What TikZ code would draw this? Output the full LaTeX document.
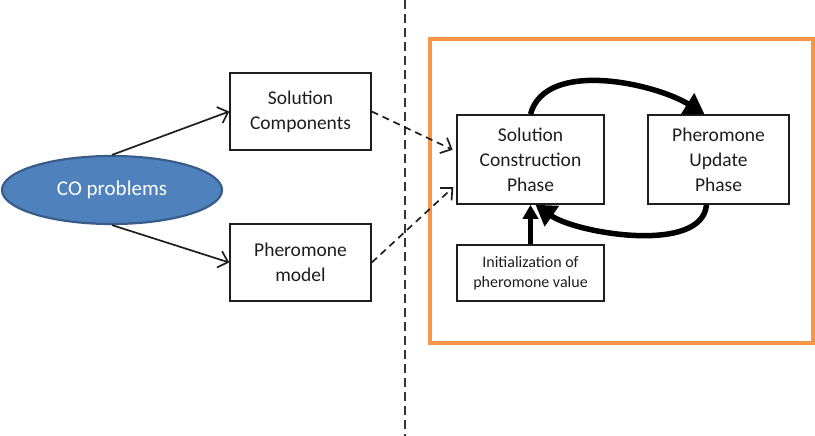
\documentclass[tikz,border=0pt]{standalone}
\usepackage{fontspec}
\setmainfont{Carlito}
\usepackage{tikz}
\usetikzlibrary{shapes,arrows,arrows.meta,positioning,shapes.geometric}
\definecolor{cobase}{RGB}{79, 129, 189}
\definecolor{coedge}{RGB}{56, 93, 138}
\definecolor{frame}{RGB}{247, 150, 70}
\definecolor{ink}{RGB}{30, 30, 30}
\tikzstyle{phasebox} = [
    rectangle,
    draw=ink,
    line width=1.5pt,
    align=center,
    text=ink,
    inner sep=2pt,
    font=\fontsize{19.5}{25}\selectfont
]
\tikzstyle{problem} = [
    ellipse,
    draw=coedge,
    line width=2.2pt,
    fill=cobase,
    text=white,
    minimum width=220pt,
    minimum height=68pt,
    font=\fontsize{21}{25}\selectfont
]
\tikzstyle{link} = [
    line width=1.7pt,
    draw=ink,
    -{Straight Barb[length=9pt,width=17pt]}
]
\tikzstyle{feed} = [
    link,
    dash pattern=on 7pt off 5pt,
    shorten >=4pt
]
\tikzstyle{cyclearrow} = [
    line width=5.5pt,
    draw=black,
    -{Triangle[length=20pt,width=24pt]}
]

\begin{document}
\begin{tikzpicture}[x=1pt,y=-1pt]
        \useasboundingbox (0,0) rectangle (815,436);

        % Separator
        \draw[line width=2.3pt, draw=ink!90, dash pattern=on 9pt off 5pt] (405,0) -- (405,436);

        % Problem and its parts
        \node[problem] (co) at (112,190) {CO problems};
        \node[phasebox, minimum width=141pt, minimum height=77pt] (sc) at (300.5,111.5) {Solution\\Components};
        \node[phasebox, minimum width=141pt, minimum height=77pt] (pm) at (300.5,262.5) {Pheromone\\model};

        \draw[link] (co.north) -- (sc.west);
        \draw[link] (co.south) -- (pm.west);

        % Algorithm frame
        \draw[line width=3.2pt, draw=frame] (430,39) rectangle (813,343);

        \node[phasebox, minimum width=147pt, minimum height=89pt] (scp) at (530.5,159.5) {Solution\\Construction\\Phase};
        \node[phasebox, minimum width=141pt, minimum height=89pt] (pup) at (718.5,159.5) {Pheromone\\Update\\Phase};
        \node[phasebox, minimum width=147pt, minimum height=56pt, font=\fontsize{16}{20}\selectfont] (init) at (530.5,273) {Initialization of\\pheromone value};

        \draw[feed] (sc.east) -- ([yshift=8pt]scp.west);
        \draw[feed] (pm.east) -- ([yshift=-25pt]scp.west);

        % Update cycle
        \draw[cyclearrow] (scp.north) to[out=75, in=148, looseness=0.85] ([xshift=-14pt]pup.north);
        \draw[cyclearrow] ([xshift=-12pt]pup.south) to[out=-95, in=-35, looseness=0.75] ([xshift=5pt]scp.south);
        \draw[line width=4.5pt, -{Triangle[length=14pt,width=15pt]}] (init.north) -- (scp.south);
    \end{tikzpicture}
\end{document}
